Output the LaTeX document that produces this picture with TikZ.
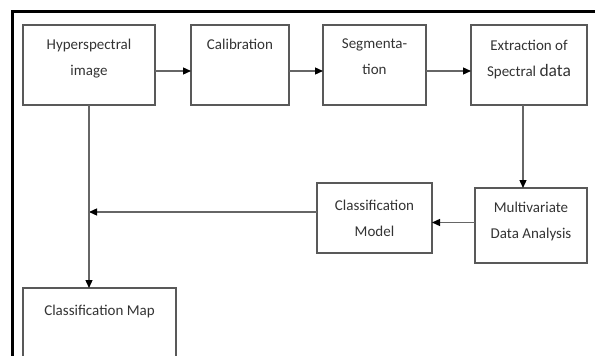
\documentclass[tikz,border=0pt]{standalone}
\usepackage{fontspec}
\setmainfont{Carlito}
\usetikzlibrary{arrows.meta,calc,positioning}
\newdimen\hdim
\newdimen\tdim
\hdim=80pt
\tdim=14pt
\tikzstyle{element}=[
  draw=black!65,
  line width=1.3pt,
  inner sep=0pt,
  minimum height=\hdim,
  outer sep=0pt,
  rectangle,
]
\tikzstyle{elementtext}=[
  align=center,
  font={\fontsize{15}{26}\selectfont},
  inner sep=0pt,
  text=black!80,
]
\tikzstyle{arrow}=[
  draw=black!60,
  line width=1.3pt,
]
\tikzstyle{frame}=[
  draw=black,
  line width=3pt,
]
\tikzset{
  x=1pt,
  y=-1pt,
  >={Triangle[length=8pt,width=7pt,color=black]},
}
\begin{document}
\begin{tikzpicture}
      \useasboundingbox (0,0) rectangle (595,356);
      \draw [frame] (12,356) -- (12,11) -- (595,11);
      %%
      \node (hyper) [element, minimum width=132pt] at (89,65) {};
      \node (calib) [element, minimum width=98pt] at (240,65) {};
      \node (segment) [element, minimum width=103pt] at (374.5,65) {};
      \node (extract) [element, minimum width=116pt] at (529,65) {};
      \node (multi) [element, minimum width=112pt, minimum height=75pt] at (531,225.5) {};
      \node (model) [element, minimum width=115pt, minimum height=70pt] at (374.5,218) {};
      \node (map) [element, minimum width=153pt] at (99.5,328) {};
      %%
      \node (hypertext) [elementtext, below=\tdim of hyper.north] {Hyperspectral\\image};
      \node (calibtext) [elementtext, below=\tdim of calib.north] {Calibration};
      \node (segmenttext) [elementtext, below=\tdim of segment.north] {Segmenta-\\tion};
      \node (extracttext) [elementtext, below=\tdim+1pt of extract.north]
        {Extraction of\\Spectral {\fontsize{17.5}{26}\selectfont data}};
      \node (multitext) [elementtext, below=\tdim of multi.north] {Multivariate\\Data Analysis};
      \node (modeltext) [elementtext, below=\tdim+3pt of model.north] {Classification\\Model};
      \node (maptext) [elementtext, below=\tdim+3pt of map.north] {Classification Map};
      %%
      \draw [->, arrow] ([yshift=-6pt]hyper.east) -- ([yshift=-6pt]calib.west);
      \draw [->, arrow] ([yshift=-6pt]calib.east) -- ([yshift=-6pt]segment.west);
      \draw [->, arrow] ([yshift=-6pt]segment.east) -- ([yshift=-6pt]extract.west);
      \draw [->, arrow] ([xshift=-6pt]extract.south) -- ([xshift=-6pt]extract.south |- multi.north);
      \draw [->, arrow] ([yshift=3pt]multi.west) -- ([yshift=3pt]multi.west -| model.east);
      \draw [->, arrow] ([yshift=6pt]model.west) -- ([yshift=6pt]model.west -| hyper.south);
      \draw [->, arrow] (hyper.south) -- (hyper.south |- map.north);
    \end{tikzpicture}
\end{document}
